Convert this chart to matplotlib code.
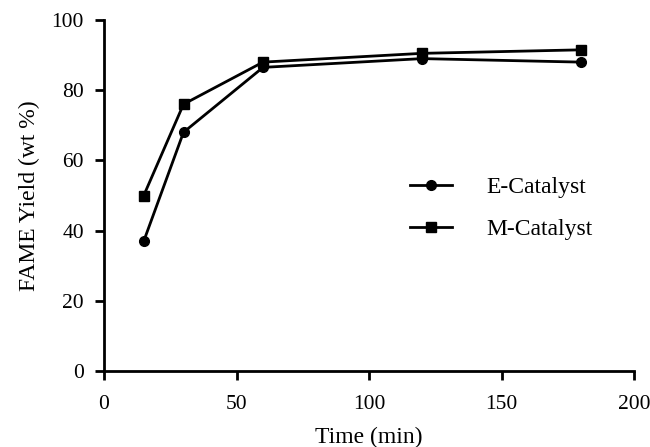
import matplotlib
matplotlib.use("Agg")
import matplotlib.pyplot as plt

time_min = [15, 30, 60, 120, 180]
e_catalyst = [37, 68, 86.5, 89, 88]
m_catalyst = [50, 76, 88, 90.5, 91.5]
x_ticks = [0, 50, 100, 150, 200]
y_ticks = [0, 20, 40, 60, 80, 100]

plt.rcParams['font.family'] = ['Liberation Serif', 'DejaVu Serif']

fig = plt.figure(figsize=(6.5, 4.47), dpi=100)
ax = fig.add_axes([104 / 650, 76 / 447, 530 / 650, 351 / 447])

ax.plot(time_min, e_catalyst, color='black', lw=2, marker='o', ms=7, label='E-Catalyst')
ax.plot(time_min, m_catalyst, color='black', lw=2, marker='s', ms=7, label='M-Catalyst')

ax.set_xlim(0, 200)
ax.set_ylim(0, 100)
ax.set_xticks(x_ticks)
ax.set_yticks(y_ticks)
for s in ['top', 'right']:
    ax.spines[s].set_visible(False)
for s in ['left', 'bottom']:
    ax.spines[s].set_linewidth(2)
ax.tick_params(width=2, length=6.5, labelsize=15.5, direction='out')
ax.tick_params(axis='x', pad=11)
ax.tick_params(axis='y', pad=8)
ax.set_xlabel('Time (min)', fontsize=17)
ax.set_ylabel('FAME Yield (wt %)', fontsize=17)
ax.xaxis.set_label_coords(0.5, -0.16)
ax.yaxis.set_label_coords(-0.12, 0.5)

ax.legend(loc='center left', bbox_to_anchor=(0.578, 0.463), frameon=False,
          fontsize=17, handlelength=1.76, handletextpad=1.45, labelspacing=0.85,
          borderpad=0, borderaxespad=0)

fig.savefig('out.png', dpi=100)
